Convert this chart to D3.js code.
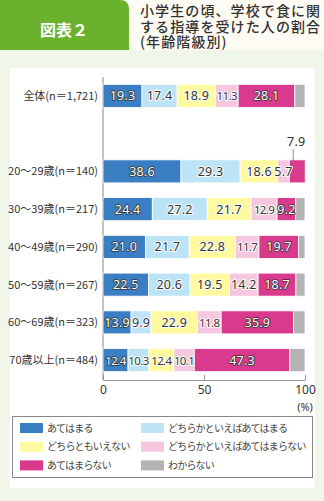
<!DOCTYPE html>
<html>
<head>
<meta charset="utf-8">
<script src="https://cdn.jsdelivr.net/npm/d3@7"></script>
<style>
  html, body { margin: 0; padding: 0; background: #f0f6ea; }
  body { position: relative; width: 324px; height: 501px; }
  svg { display: block; font-family: "Noto Sans CJK JP", "Noto Sans", sans-serif; }
  #title {
    position: absolute; left: 140px; top: 3px; width: 184px;
    font-family: "Noto Sans CJK JP", sans-serif; font-size: 14px; font-weight: 500;
    letter-spacing: 1.1px; line-height: 15.5px; color: #333;
    white-space: pre;
  }
</style>
</head>
<body>
<svg id="chart" width="324" height="501"></svg>
<div id="title"></div>
<script>
// Data (%)
const groups = ["全体(n＝1,721)", "", "20～29歳(n＝140)", "30～39歳(n＝217)", "40～49歳(n＝290)",
  "50～59歳(n＝267)", "60～69歳(n＝323)", "70歳以上(n＝484)"];
const answers = ["あてはまる", "どちらかといえばあてはまる", "どちらともいえない",
  "どちらかといえばあてはまらない", "あてはまらない", "わからない"];
const atehamaru     = [19.3, null, 38.6, 24.4, 21.0, 22.5, 13.9, 12.4];
const dochiraAte    = [17.4, null, 29.3, 27.2, 21.7, 20.6, 9.9, 10.3];
const dochiraMo     = [18.9, null, 18.6, 21.7, 22.8, 19.5, 22.9, 12.4];
const dochiraNai    = [11.3, null, 5.7, 12.9, 11.7, 14.2, 11.8, 10.1];
const atehamaranai  = [28.1, null, 7.9, 9.2, 19.7, 18.7, 35.9, 47.3];
const wakaranai     = [5.0, null, 0, 4.6, 3.1, 4.5, 5.6, 7.5];
const xTicks = [0, 50, 100];

const colors = ["#3a7fc4", "#bde3f7", "#fffaa0", "#f5c8df", "#d93a8e", "#b3b3b3"];
const darkFill = [true, false, false, false, true, false];

const series = [atehamaru, dochiraAte, dochiraMo, dochiraNai, atehamaranai, wakaranai];
const rows = groups.map((g, i) => {
  const r = { group: g };
  answers.forEach((a, k) => { r[a] = series[k][i] || 0; });
  return r;
}).filter(r => r.group !== "");

const svg = d3.select("#chart");

// Header
svg.append("rect").attr("x", 0).attr("y", 0).attr("width", 324).attr("height", 50).attr("fill", "#fdfbf4");
svg.append("path")
  .attr("d", "M0,0 H120 Q129,0 129,9 V50 H0 Z")
  .attr("fill", "#6ab22e");
svg.append("text")
  .attr("x", 64).attr("y", 36)
  .attr("text-anchor", "middle")
  .style("font-size", "16px").style("font-weight", "bold")
  .attr("fill", "#fff")
  .text("図表２");
// one text node, three lines
d3.select("#title").text("小学生の頃、学校で食に関\nする指導を受けた人の割合\n(年齢階級別)");

// White panel
svg.append("rect").attr("x", 10).attr("y", 68).attr("width", 305).attr("height", 420).attr("fill", "#fff");

// Scales
const x = d3.scaleLinear().domain([0, 100]).range([103, 305]);
const y = d3.scaleBand().domain(groups).range([77, 379]).paddingInner(0.39).paddingOuter(0.195);

const stack = d3.stack().keys(answers);
const stacked = stack(rows);

// Axes lines
svg.append("line").attr("x1", x(0)).attr("x2", x(0)).attr("y1", 77).attr("y2", 380)
  .attr("stroke", "#999").attr("stroke-width", 1.2);
const xAxis = svg.append("g")
  .attr("transform", "translate(0,380)")
  .call(d3.axisBottom(x).tickValues(xTicks).tickSizeInner(-5).tickSizeOuter(0).tickPadding(5));
xAxis.select(".domain").attr("stroke", "#999");
xAxis.selectAll(".tick line").attr("stroke", "#999");
xAxis.selectAll(".tick text").style("font-size", "12px").attr("fill", "#333")
  .style("font-family", "'Noto Sans', sans-serif");
svg.append("text").attr("x", x(100)).attr("y", 411).attr("text-anchor", "middle")
  .style("font-size", "11px").attr("fill", "#333")
  .style("font-family", "'Noto Sans', sans-serif").text("(%)");

// Group labels
svg.append("g").selectAll("text").data(rows).enter().append("text")
  .attr("x", 98)
  .attr("y", d => y(d.group) + y.bandwidth() / 2 + 4)
  .attr("text-anchor", "end")
  .style("font-size", "11px").attr("fill", "#333")
  .text(d => d.group);

// Bars
const layers = svg.append("g").selectAll("g").data(stacked).enter().append("g")
  .attr("fill", (d, i) => colors[i]);
layers.selectAll("rect").data(d => d).enter().append("rect")
  .attr("x", d => x(d[0]))
  .attr("y", d => y(d.data.group))
  .attr("width", d => Math.max(0, x(d[1]) - x(d[0])))
  .attr("height", y.bandwidth())
  .attr("stroke", "#fff").attr("stroke-width", 0.8);

// Value labels (not for わからない)
stacked.forEach((layer, i) => {
  if (i === 5) return;
  layer.forEach(d => {
    const v = d[1] - d[0];
    const inside = !(d.data.group.startsWith("20") && i === 4);
    const cx = (x(d[0]) + x(d[1])) / 2;
    const cy = y(d.data.group) + y.bandwidth() / 2;
    const narrow = v < 13 && v >= 10;
    const t = svg.append("text")
      .attr("x", inside ? cx : cx - 1)
      .attr("y", inside ? cy + 4.5 : y(d.data.group) - 14)
      .attr("text-anchor", "middle")
      .style("font-family", "'Noto Sans', sans-serif")
      .style("font-size", narrow ? "11.5px" : "12.5px")
      .style("letter-spacing", narrow ? "-0.6px" : "0.2px")
      .style("paint-order", "stroke")
      .attr("stroke-linejoin", "round")
      .text(v.toFixed(1));
    if (inside && darkFill[i]) {
      t.attr("fill", "#fff").attr("stroke", "#333").attr("stroke-width", 1.6);
    } else {
      t.attr("fill", "#333").attr("stroke", "#fff").attr("stroke-width", 2);
    }
    if (!inside) {
      svg.append("line").attr("x1", cx - 4).attr("x2", cx - 4)
        .attr("y1", y(d.data.group) - 11).attr("y2", y(d.data.group) + 5)
        .attr("stroke", "#777").attr("stroke-width", 0.8);
    }
  });
});

// Legend
svg.append("rect").attr("x", 12.5).attr("y", 416.5).attr("width", 300).attr("height", 61)
  .attr("fill", "#fff").attr("stroke", "#888");
const legend = svg.append("g").selectAll("g").data(answers).enter().append("g")
  .attr("transform", (d, i) => `translate(${i % 2 === 0 ? 20 : 141},${428 + Math.floor(i / 2) * 18.7})`);
legend.append("rect").attr("x", 0).attr("y", -5).attr("width", 23).attr("height", 10)
  .attr("fill", (d, i) => colors[i]);
legend.append("text").attr("x", 27).attr("y", 3.5)
  .style("font-size", "10px").style("letter-spacing", "-0.8px").attr("fill", "#444")
  .text(d => d);
</script>
</body>
</html>
